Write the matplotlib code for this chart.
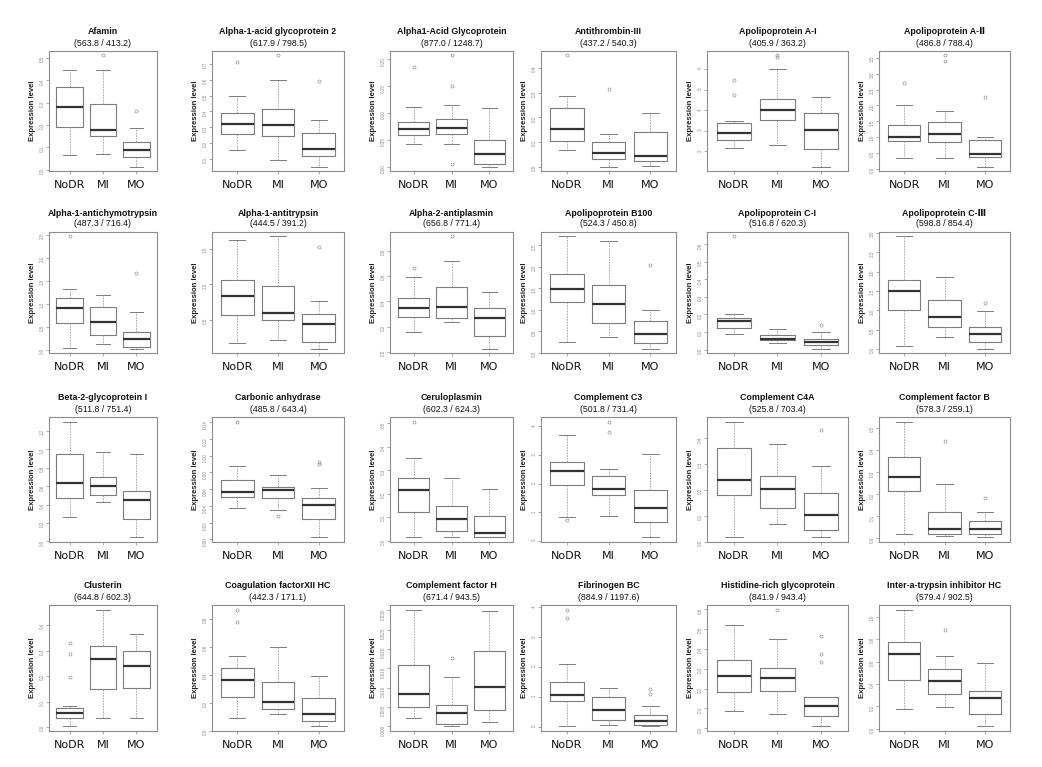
import matplotlib
matplotlib.use("Agg")
import matplotlib.pyplot as plt

plt.rcParams['font.family'] = ['Liberation Sans', 'DejaVu Sans']

groups = ["NoDR", "MI", "MO"]

titles = [
    "Afamin", "Alpha-1-acid glycoprotein 2", "Alpha1-Acid Glycoprotein",
    "Antithrombin-III", "Apolipoprotein A-I", "Apolipoprotein A-\u2161",
    "Alpha-1-antichymotrypsin", "Alpha-1-antitrypsin", "Alpha-2-antiplasmin",
    "Apolipoprotein B100", "Apolipoprotein C-I", "Apolipoprotein C-\u2162",
    "Beta-2-glycoprotein I", "Carbonic anhydrase", "Ceruloplasmin",
    "Complement C3", "Complement C4A", "Complement factor B",
    "Clusterin", "Coagulation factorXII HC", "Complement factor H",
    "Fibrinogen BC", "Histidine-rich glycoprotein", "Inter-a-trypsin inhibitor HC",
]

subtitles = [
    "(563.8 / 413.2)", "(617.9 / 798.5)", "(877.0 / 1248.7)",
    "(437.2 / 540.3)", "(405.9 / 363.2)", "(486.8 / 788.4)",
    "(487.3 / 716.4)", "(444.5 / 391.2)", "(656.8 / 771.4)",
    "(524.3 / 450.8)", "(516.8 / 620.3)", "(598.8 / 854.4)",
    "(511.8 / 751.4)", "(485.8 / 643.4)", "(602.3 / 624.3)",
    "(501.8 / 731.4)", "(525.8 / 703.4)", "(578.3 / 259.1)",
    "(644.8 / 602.3)", "(442.3 / 171.1)", "(671.4 / 943.5)",
    "(884.9 / 1197.6)", "(841.9 / 943.4)", "(579.4 / 902.5)",
]

# per panel: [NoDR, MI, MO]
whislo = [
    [0.066, 0.069, 0.015], [0.157, 0.094, 0.051], [0.041, 0.041, 0.0],
    [0.067, 0.0, 0.004], [2.18, 2.33, 1.27], [0.347, 0.337, 0.063],
    [0.044, 0.11, 0.022], [0.167, 0.219, 0.095], [0.157, 0.235, 0.027],
    [0.25, 0.363, 0.095], [0.088, 0.04, 0.006], [0.07, 0.313, 0.017],
    [0.262, 0.429, 0.044], [0.0378, 0.035, 0.0024], [0.014, 0.017, 0.014],
    [0.82, 0.87, 0.12], [0.019, 0.069, 0.016], [0.02, 0.011, 0.005],
    [0.003, 0.037, 0.034], [0.089, 0.116, 0.031], [0.0021, 0.0, 0.001],
    [0.02, 0.056, 0.01], [0.086, 0.073, 0.01], [0.178, 0.19, 0.021],
]
q1 = [
    [0.19, 0.153, 0.057], [0.26, 0.247, 0.115], [0.058, 0.061, 0.004],
    [0.104, 0.03, 0.022], [2.57, 3.51, 2.13], [0.884, 0.84, 0.379],
    [0.574, 0.31, 0.059], [0.567, 0.495, 0.186], [0.275, 0.267, 0.128],
    [1.19, 0.686, 0.213], [0.125, 0.054, 0.025], [1.01, 0.565, 0.174],
    [0.473, 0.509, 0.247], [0.0503, 0.049, 0.0249], [0.121, 0.04, 0.017],
    [1.97, 1.62, 0.67], [0.179, 0.131, 0.045], [0.216, 0.02, 0.02],
    [0.036, 0.151, 0.153], [0.241, 0.152, 0.067], [0.005, 0.0007, 0.0043],
    [0.856, 0.237, 0.045], [0.183, 0.186, 0.064], [0.431, 0.31, 0.133],
]
med = [
    [0.281, 0.177, 0.089], [0.321, 0.317, 0.164], [0.069, 0.071, 0.024],
    [0.153, 0.055, 0.042], [2.89, 4.03, 3.02], [1.01, 1.095, 0.474],
    [0.904, 0.60, 0.235], [0.833, 0.595, 0.438], [0.347, 0.352, 0.272],
    [1.49, 1.136, 0.44], [0.16, 0.063, 0.044], [1.50, 0.826, 0.383],
    [0.633, 0.60, 0.447], [0.0563, 0.0595, 0.0414], [0.214, 0.091, 0.033],
    [2.43, 1.83, 1.16], [0.238, 0.205, 0.101], [0.279, 0.042, 0.042],
    [0.055, 0.266, 0.24], [0.361, 0.205, 0.116], [0.0083, 0.0034, 0.0102],
    [1.06, 0.54, 0.18], [0.266, 0.254, 0.11], [0.663, 0.428, 0.277],
]
q3 = [
    [0.368, 0.293, 0.126], [0.391, 0.417, 0.264], [0.0825, 0.088, 0.05],
    [0.238, 0.10, 0.14], [3.38, 4.54, 3.87], [1.39, 1.47, 0.895],
    [1.125, 0.92, 0.39], [1.06, 0.976, 0.576], [0.427, 0.515, 0.347],
    [1.84, 1.58, 0.726], [0.179, 0.081, 0.06], [1.79, 1.26, 0.565],
    [0.945, 0.698, 0.542], [0.0716, 0.0632, 0.0495], [0.266, 0.146, 0.106],
    [2.74, 2.27, 1.79], [0.36, 0.252, 0.188], [0.369, 0.118, 0.077],
    [0.073, 0.318, 0.30], [0.446, 0.349, 0.236], [0.0159, 0.0056, 0.0195],
    [1.49, 0.99, 0.394], [0.342, 0.302, 0.159], [0.771, 0.533, 0.34],
]
whishi = [
    [0.444, 0.444, 0.185], [0.50, 0.60, 0.349], [0.110, 0.115, 0.108],
    [0.288, 0.133, 0.219], [3.48, 6.0, 4.65], [2.02, 1.82, 1.0],
    [1.31, 1.18, 0.81], [1.63, 1.676, 0.771], [0.595, 0.715, 0.472],
    [2.71, 2.60, 1.0], [0.202, 0.115, 0.102], [2.91, 1.86, 0.974],
    [1.30, 0.971, 0.949], [0.0873, 0.0772, 0.0615], [0.354, 0.266, 0.219],
    [3.70, 2.50, 3.02], [0.464, 0.379, 0.291], [0.529, 0.246, 0.118],
    [0.083, 0.46, 0.365], [0.533, 0.598, 0.393], [0.0302, 0.0128, 0.0299],
    [2.08, 1.28, 0.70], [0.519, 0.451, 0.159], [1.063, 0.651, 0.584],
]
fliers = [
    [[], [0.51], [0.263]], [[0.713], [0.755], [0.596]], [[0.184], [0.206, 0.149, 0.004], []],
    [[0.451], [0.315], []], [[5.45, 4.72], [6.65, 6.59], []], [[2.705], [3.58, 3.41], [2.25]],
    [[2.46], [], [1.66]], [[], [], [1.533]], [[0.661], [0.912], []],
    [[], [], [2.04]], [[0.644], [], [0.14]], [[], [], [1.20]],
    [[], [], []], [[0.1408], [0.0274], [0.0925, 0.0897]], [[0.507], [], []],
    [[0.74], [4.17, 3.82], []], [[], [], [0.431]], [[], [0.443], [0.181]],
    [[0.33, 0.285, 0.195], [], []], [[0.863, 0.778], [], []], [[], [0.0178], []],
    [[3.91, 3.62], [], [1.25, 1.09]], [[], [0.598], [0.463, 0.373, 0.332]], [[], [0.877], []],
]

ytick_labels = [
    ["0.0", "0.1", "0.2", "0.3", "0.4", "0.5"],
    ["0.1", "0.2", "0.3", "0.4", "0.5", "0.6", "0.7"],
    ["0.00", "0.05", "0.10", "0.15", "0.20"],
    ["0.0", "0.1", "0.2", "0.3", "0.4"],
    ["2", "3", "4", "5", "6"],
    ["0.0", "0.5", "1.0", "1.5", "2.0", "2.5", "3.0", "3.5"],
    ["0.0", "0.5", "1.0", "1.5", "2.0", "2.5"],
    ["0.5", "1.0", "1.5"],
    ["0.0", "0.2", "0.4", "0.6", "0.8"],
    ["0.0", "0.5", "1.0", "1.5", "2.0", "2.5"],
    ["0.0", "0.1", "0.2", "0.3", "0.4", "0.5", "0.6"],
    ["0.0", "0.5", "1.0", "1.5", "2.0", "2.5", "3.0"],
    ["0.0", "0.2", "0.4", "0.6", "0.8", "1.0", "1.2"],
    ["0.00", "0.02", "0.04", "0.06", "0.08", "0.10", "0.12", "0.14"],
    ["0.0", "0.1", "0.2", "0.3", "0.4", "0.5"],
    ["0", "1", "2", "3", "4"],
    ["0.0", "0.1", "0.2", "0.3", "0.4"],
    ["0.0", "0.1", "0.2", "0.3", "0.4", "0.5"],
    ["0.0", "0.1", "0.2", "0.3", "0.4"],
    ["0.0", "0.2", "0.4", "0.6", "0.8"],
    ["0.000", "0.005", "0.010", "0.015", "0.020", "0.025", "0.030"],
    ["0", "1", "2", "3", "4"],
    ["0.0", "0.1", "0.2", "0.3", "0.4", "0.5", "0.6"],
    ["0.0", "0.2", "0.4", "0.6", "0.8", "1.0"],
]

# ---- layout (pixels) ----
W, H = 1042, 767
col_l = [49, 212, 390, 541, 707, 879]
col_r = [157, 344, 513, 676, 848, 1010]
row_t = [51, 232, 417, 605]
row_b = [171, 353, 542, 731]

fig = plt.figure(figsize=(W / 100, H / 100), dpi=100)
fig.patch.set_facecolor("white")

box_c = "#7c7c7c"
for i in range(24):
    r, c = divmod(i, 6)
    l, rr, t, b = col_l[c], col_r[c], row_t[r], row_b[r]
    ax = fig.add_axes([l / W, 1 - b / H, (rr - l) / W, (b - t) / H])
    stats = []
    for j, g in enumerate(groups):
        stats.append(dict(whislo=whislo[i][j], q1=q1[i][j], med=med[i][j],
                          q3=q3[i][j], whishi=whishi[i][j],
                          fliers=fliers[i][j], label=g))
    ax.bxp(stats, positions=[1, 2, 3], widths=0.8, capwidths=0.4,
           manage_ticks=False,
           boxprops=dict(color=box_c, linewidth=0.8),
           medianprops=dict(color="#333333", linewidth=1.6, solid_capstyle="butt"),
           whiskerprops=dict(color="#9e9e9e", linewidth=0.6, linestyle=(0, (2.0, 1.3))),
           capprops=dict(color=box_c, linewidth=0.7),
           flierprops=dict(marker="o", markersize=2.2, markerfacecolor="none",
                           markeredgecolor="#909090", markeredgewidth=0.5))
    allv = whislo[i] + whishi[i] + [v for f in fliers[i] for v in f]
    lo, hi = min(allv), max(allv)
    pad = 0.04 * (hi - lo)
    ax.set_ylim(lo - pad, hi + pad)
    ax.set_xlim(0.38, 3.62)
    yt = ytick_labels[i]
    ax.set_yticks([float(s) for s in yt])
    ax.set_yticklabels(yt)
    ax.set_xticks([1, 2, 3])
    ax.set_xticklabels(groups)
    ax.tick_params(axis="y", labelrotation=90, length=2, width=0.5, pad=1.2,
                   labelsize=3.3, colors="#8a8a8a")
    ax.tick_params(axis="x", length=2, width=0.5, pad=4.2, labelsize=8.0,
                   color="#8a8a8a", labelcolor="#111111")
    for lab in ax.get_xticklabels():
        lab.set_family(["DejaVu Sans"])
    for s in ax.spines.values():
        s.set_color("#8c8c8c")
        s.set_linewidth(0.8)
    ax.set_ylabel("Expression level", fontsize=5.6, fontweight="bold", color="#222222")
    ax.yaxis.set_label_coords(-13.0 / (rr - l), 0.5)
    xc = (l + rr) / 2 / W
    fig.text(xc, 1 - (t - 19) / H, titles[i], ha="center", va="center",
             fontsize=6.4, fontweight="bold", color="#111111")
    fig.text(xc, 1 - (t - 8) / H, subtitles[i], ha="center", va="center",
             fontsize=6.3, color="#111111")

fig.savefig("out.png", dpi=100, facecolor="white")
